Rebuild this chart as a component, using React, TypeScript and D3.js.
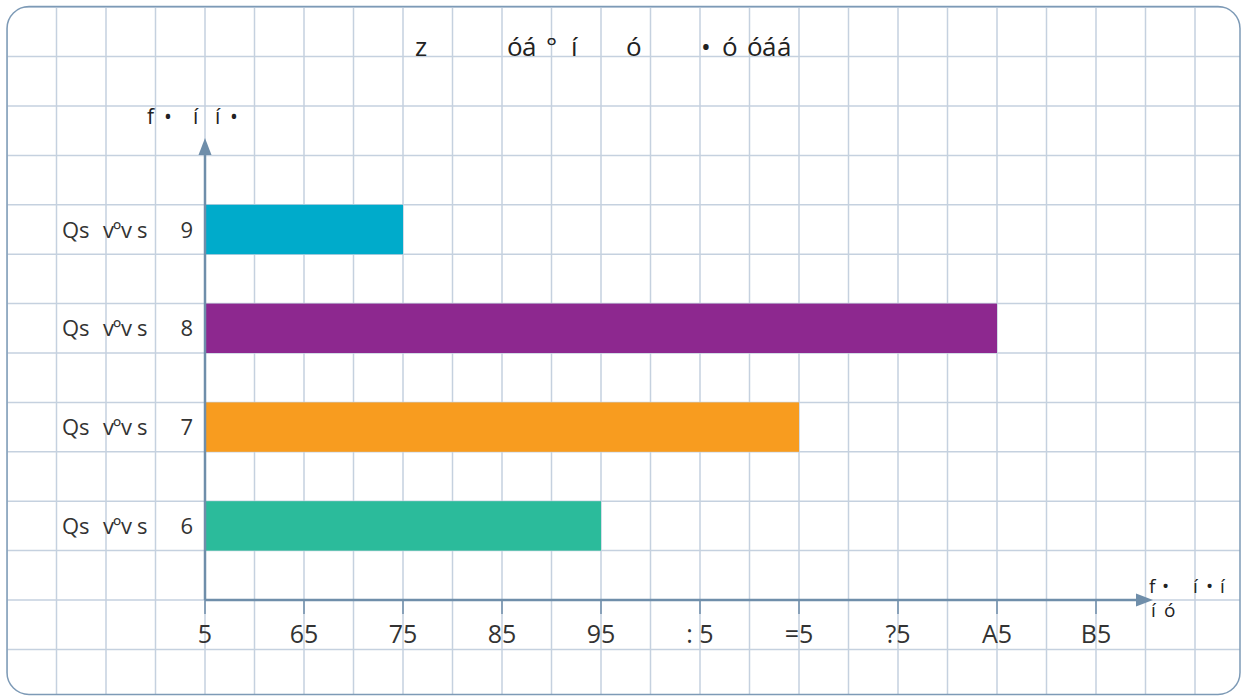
import React from "react";
import * as d3 from "d3";

const categories = ["6", "7", "8", "9"];
const values = [40, 60, 80, 20];
const colors = ["#2bbb9b", "#f89c1f", "#8d288f", "#00abcb"];
const tickValues = [0, 10, 20, 30, 40, 50, 60, 70, 80, 90];
const tickLabels = ["5", "65", "75", "85", "95", ": 5", "=5", "?5", "A5", "B5"];
const prefixGlyphs = ["Qs", "v", "º", "v", "s"];
const prefixOffsets = [0, 41, 51, 59, 75];
const titleGlyphs = ["z", "ó", "á", "°", "í", "ó", "•", "ó", "ó", "á", "á"];
const titleXs = [415, 507, 522, 546, 571, 626, 701, 722, 747, 762, 777];

const W = 1241;
const H = 696;
const FONT = "'Open Sans', 'Noto Sans', sans-serif";

export default function App() {
  const x = d3.scaleLinear().domain([0, 90]).range([205, 1096]);
  const y = d3
    .scaleBand<string>()
    .domain(categories)
    .range([600, 155.4])
    .paddingInner(0.5)
    .paddingOuter(0.5);
  const cellX = x(5) - x(0);
  const cellY = y.bandwidth();

  const vLines: number[] = [];
  for (let k = -4; k <= 21; k++) vLines.push(x(0) + k * cellX);
  const hLines: number[] = [];
  for (let k = -2; k <= 12; k++) hLines.push(600 - k * cellY);

  const axisColor = "#6f8eaa";
  const gridColor = "#c5d1df";

  return (
    <svg
      width={W}
      height={H}
      style={{ position: "absolute", left: 0, top: 0 }}
      fontFamily={FONT}
    >
      <defs>
        <clipPath id="frame">
          <rect x={7} y={6.5} width={1233} height={688} rx={22} />
        </clipPath>
      </defs>
      <rect x={0} y={0} width={W} height={H} fill="#fff" />
      <g clipPath="url(#frame)">
        {vLines.map((v, i) => (
          <line key={"v" + i} x1={v} x2={v} y1={0} y2={H} stroke={gridColor} strokeWidth={1.5} />
        ))}
        {hLines.map((h, i) => (
          <line key={"h" + i} x1={0} x2={W} y1={h} y2={h} stroke={gridColor} strokeWidth={1.5} />
        ))}
      </g>
      <rect x={7} y={6.5} width={1233} height={688} rx={22} fill="none" stroke="#7d9ab6" strokeWidth={1.5} />

      {/* title */}
      <text y={56} fontSize={26} fill="#222">
        {titleGlyphs.map((g, i) => (
          <tspan key={i} x={titleXs[i]}>
            {g}
          </tspan>
        ))}
      </text>

      {/* bars */}
      {categories.map((c, i) => (
        <rect
          key={c}
          x={x(0)}
          y={y(c)!}
          width={x(values[i]) - x(0)}
          height={y.bandwidth()}
          fill={colors[i]}
        />
      ))}

      {/* category labels */}
      {categories.map((c) => {
        const by = y(c)! + y.bandwidth() / 2 + 8;
        return (
          <g key={"l" + c} fontSize={22} fill="#333">
            <text y={by}>
              {prefixGlyphs.map((g, i) => (
                <tspan key={i} x={62 + prefixOffsets[i]} dy={g === "º" ? 0 : 0}>
                  {g}
                </tspan>
              ))}
            </text>
            <text x={193} y={by} textAnchor="end">
              {c}
            </text>
          </g>
        );
      })}

      {/* axes */}
      <line x1={x(0)} x2={x(0)} y1={600} y2={150} stroke={axisColor} strokeWidth={2.5} />
      <path d={`M${x(0)},138 L${x(0) - 6.5},155 L${x(0) + 6.5},155 Z`} fill={axisColor} />
      <line x1={x(0)} x2={1140} y1={600} y2={600} stroke={axisColor} strokeWidth={2.5} />
      <path d={`M1153,600 L1136,593.5 L1136,606.5 Z`} fill={axisColor} />
      {tickValues.map((t, i) => (
        <g key={"t" + t}>
          <line x1={x(t)} x2={x(t)} y1={600} y2={614} stroke={axisColor} strokeWidth={1.5} />
          <text x={x(t)} y={643} textAnchor="middle" fontSize={25} fill="#333" style={{ whiteSpace: "pre" }}>
            {tickLabels[i]}
          </text>
        </g>
      ))}

      {/* axis titles */}
      <text y={124} fontSize={21} fill="#222">
        <tspan x={147}>f</tspan>
        <tspan x={164}>•</tspan>
        <tspan x={193}>í</tspan>
        <tspan x={215}>í</tspan>
        <tspan x={230}>•</tspan>
      </text>
      <text y={593} fontSize={19} fill="#222">
        <tspan x={1149}>f</tspan>
        <tspan x={1162}>•</tspan>
        <tspan x={1193}>í</tspan>
        <tspan x={1206}>•</tspan>
        <tspan x={1220}>í</tspan>
      </text>
      <text y={617} fontSize={19} fill="#222">
        <tspan x={1151}>í</tspan>
        <tspan x={1164}>ó</tspan>
      </text>
    </svg>
  );
}
